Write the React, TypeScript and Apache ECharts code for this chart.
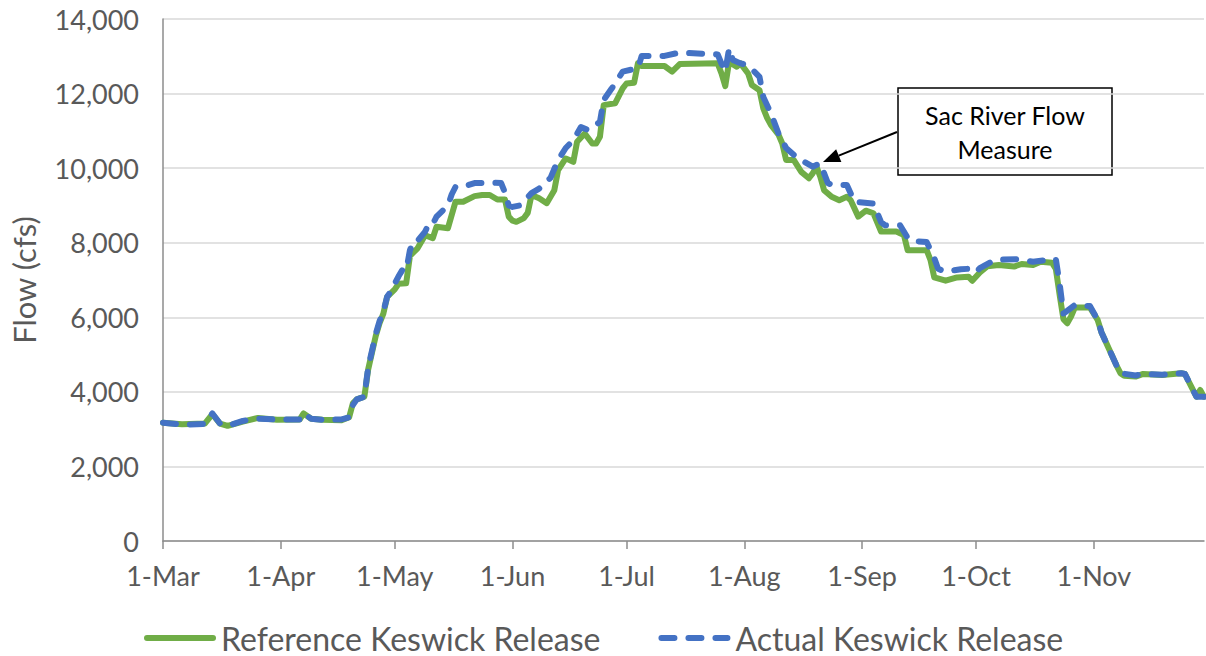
import React, { useEffect, useRef } from "react";
import * as echarts from "echarts";

// Days counted from 1 March; month starts used for ticks and labels.
const monthStartDays = [0, 31, 61, 92, 122, 153, 184, 214, 245];
const monthLabels = ["1-Mar", "1-Apr", "1-May", "1-Jun", "1-Jul", "1-Aug", "1-Sep", "1-Oct", "1-Nov"];

const yTicks = [0, 2000, 4000, 6000, 8000, 10000, 12000, 14000];

// Reference Keswick Release (cfs)
const refDay = [
  0, 5, 11, 13, 15, 17, 21, 25, 30, 36, 37, 39, 42, 47, 49, 50, 51, 53, 54, 56,
  57, 58, 59, 60, 61, 62, 64, 65, 67, 69, 71, 72, 75, 77, 79, 82, 84, 86, 88, 90,
  91, 92, 93, 95, 96, 97, 99, 101, 103, 104, 106, 107, 108, 109, 111, 113, 114, 115, 116, 119,
  121, 122, 124, 125, 126, 132, 134, 136, 146, 147, 148, 149, 151, 152, 154, 155, 157, 158, 159, 160,
  162, 163, 164, 166, 168, 170, 171, 172, 173, 174, 176, 178, 180, 181, 183, 185, 187, 189, 193, 195,
  196, 201, 202, 203, 206, 209, 212, 213, 215, 217, 220, 224, 226, 229, 231, 234, 235, 236, 237, 238,
  239, 240, 244, 246, 247, 249, 251, 252, 253, 256, 258, 263, 268, 269, 270, 272, 273, 274,
];
const refFlow = [
  3170, 3130, 3150, 3400, 3150, 3090, 3200, 3300, 3250, 3260, 3420, 3280, 3250, 3240, 3320, 3700, 3800, 3870, 4600, 5500,
  5840, 6100, 6550, 6650, 6750, 6900, 6910, 7650, 7850, 8200, 8120, 8430, 8390, 9100, 9100, 9250, 9280, 9280, 9160, 9160,
  8700, 8590, 8560, 8660, 8800, 9280, 9190, 9060, 9410, 9950, 10260, 10220, 10170, 10710, 10930, 10660, 10660, 10840, 11690, 11740,
  12140, 12270, 12290, 12810, 12740, 12740, 12590, 12790, 12810, 12540, 12200, 12850, 12720, 12810, 12540, 12230, 12090, 11600, 11350, 11160,
  10900, 10660, 10220, 10220, 9900, 9730, 9860, 10040, 9770, 9410, 9230, 9140, 9230, 9140, 8700, 8860, 8790, 8300, 8300, 8210,
  7800, 7800, 7540, 7070, 6980, 7070, 7090, 6980, 7200, 7370, 7400, 7360, 7430, 7400, 7490, 7460, 7300, 6600, 5950, 5840,
  6020, 6260, 6260, 5930, 5600, 5150, 4700, 4500, 4430, 4410, 4480, 4450, 4500, 4480, 4270, 3870, 4050, 3870,
];

// Actual Keswick Release (cfs)
const actDay = [
  0, 5, 11, 13, 15, 17, 21, 25, 30, 36, 37, 39, 42, 47, 49, 50, 51, 53, 54, 56,
  57, 58, 59, 60, 61, 62, 63, 64, 65, 66, 67, 69, 70, 71, 72, 75, 76, 77, 79, 82,
  87, 89, 90, 91, 92, 94, 97, 99, 102, 104, 106, 108, 110, 112, 115, 116, 118, 121, 125, 126,
  132, 136, 146, 147, 148, 149, 150, 152, 154, 157, 158, 160, 162, 164, 167, 171, 173, 175, 176, 180,
  182, 187, 189, 190, 194, 196, 197, 201, 203, 204, 206, 210, 212, 214, 215, 219, 225, 229, 233, 235,
  236, 237, 239, 240, 244, 246, 247, 249, 251, 252, 256, 258, 263, 268, 269, 270, 272, 274,
];
const actFlow = [
  3170, 3120, 3140, 3420, 3150, 3090, 3220, 3280, 3260, 3260, 3420, 3280, 3250, 3260, 3320, 3650, 3800, 3870, 4650, 5550,
  5900, 6150, 6550, 6700, 6900, 7100, 7270, 7250, 7800, 8050, 8050, 8300, 8520, 8500, 8700, 9000, 9300, 9500, 9500, 9600,
  9610, 9600, 9350, 9000, 8960, 9000, 9330, 9450, 9740, 10220, 10540, 10750, 11100, 11020, 11240, 11830, 12120, 12590, 12680, 13010,
  13010, 13100, 13050, 12800, 12590, 13210, 12900, 12810, 12760, 12450, 11910, 11470, 10930, 10540, 10270, 10040, 10130, 9600, 9550, 9550,
  9100, 9050, 8550, 8470, 8470, 8130, 8050, 8020, 7590, 7300, 7220, 7290, 7300, 7200, 7320, 7540, 7560, 7490, 7540, 7560,
  6900, 6100, 6250, 6330, 6300, 5930, 5600, 5150, 4700, 4500, 4440, 4480, 4460, 4500, 4480, 4270, 3870, 3870,
];

const FONT = "Lato, 'Open Sans', sans-serif";
const TEXT_GRAY = "#595959";
const GREEN = "#70ad47";
const BLUE = "#4472c4";

// Legend keys: a solid rounded bar and rounded dashes
const solidKey = "path://M3,0H69A3,3 0 0 1 69,6H3A3,3 0 0 1 3,0Z";
const dashedKey =
  "path://M3,0H16A3,3 0 0 1 16,6H3A3,3 0 0 1 3,0Z" +
  "M30,0H43A3,3 0 0 1 43,6H30A3,3 0 0 1 30,0Z" +
  "M57,0H69A3,3 0 0 1 69,6H57A3,3 0 0 1 57,0Z";

export default function App() {
  const ref = useRef<HTMLDivElement>(null);

  useEffect(() => {
    if (!ref.current) return;
    const chart = echarts.init(ref.current, undefined, { renderer: "svg" });

    const refData = refDay.map((d, i) => [d, refFlow[i]]);
    const actData = actDay.map((d, i) => [d, actFlow[i]]);

    // Arrow from the callout box to the flow line
    const start = [897, 132];
    const tip = [823, 162];
    const dx = tip[0] - start[0];
    const dy = tip[1] - start[1];
    const len = Math.hypot(dx, dy);
    const ux = dx / len;
    const uy = dy / len;
    const headLen = 17;
    const headHalf = 7;
    const bx = tip[0] - ux * headLen;
    const by = tip[1] - uy * headLen;

    chart.setOption({
      animation: false,
      grid: { left: 163, right: 2, top: 19, bottom: 115, containLabel: false },
      xAxis: {
        type: "value",
        min: 0,
        max: 274,
        axisLine: { show: true, lineStyle: { color: "#8c8c8c", width: 1.5 } },
        axisTick: {
          show: true,
          length: 8,
          customValues: monthStartDays,
          lineStyle: { color: "#8c8c8c", width: 1.5 },
        },
        axisLabel: {
          customValues: monthStartDays,
          formatter: (v: number) => monthLabels[monthStartDays.indexOf(Math.round(v))] ?? "",
          color: TEXT_GRAY,
          fontFamily: FONT,
          fontSize: 27,
          margin: 21,
        },
        splitLine: { show: false },
      },
      yAxis: {
        type: "value",
        min: yTicks[0],
        max: yTicks[yTicks.length - 1],
        interval: 2000,
        name: "Flow (cfs)",
        nameLocation: "middle",
        nameGap: 124,
        nameTextStyle: { color: TEXT_GRAY, fontFamily: FONT, fontSize: 31 },
        axisLine: { show: true, lineStyle: { color: "#8c8c8c", width: 1.5 } },
        axisTick: { show: false },
        axisLabel: {
          color: TEXT_GRAY,
          fontFamily: FONT,
          fontSize: 27,
          margin: 24,
          formatter: (v: number) => v.toLocaleString("en-US"),
        },
        splitLine: { show: true, lineStyle: { color: "#d9d9d9", width: 1.5 } },
      },
      legend: {
        left: 139,
        top: 617,
        itemWidth: 72,
        itemHeight: 6,
        itemGap: 58,
        textStyle: { color: TEXT_GRAY, fontFamily: FONT, fontSize: 32 },
        data: [
          { name: "Reference Keswick Release", icon: solidKey },
          { name: "Actual Keswick Release", icon: dashedKey },
        ],
      },
      series: [
        {
          name: "Reference Keswick Release",
          type: "line",
          data: refData,
          symbol: "none",
          lineStyle: { color: GREEN, width: 6, cap: "round", join: "round" },
          itemStyle: { color: GREEN },
        },
        {
          name: "Actual Keswick Release",
          type: "line",
          data: actData,
          symbol: "none",
          lineStyle: {
            color: BLUE,
            width: 6,
            type: [13, 14],
            cap: "round",
            join: "round",
          },
          itemStyle: { color: BLUE },
        },
      ],
      graphic: [
        {
          type: "group",
          z: 100,
          children: [
            {
              type: "line",
              shape: { x1: start[0], y1: start[1], x2: bx, y2: by },
              style: { stroke: "#000", lineWidth: 2 },
            },
            {
              type: "polygon",
              shape: {
                points: [
                  tip,
                  [bx - uy * headHalf, by + ux * headHalf],
                  [bx + uy * headHalf, by - ux * headHalf],
                ],
              },
              style: { fill: "#000" },
            },
            {
              type: "rect",
              shape: { x: 898, y: 88, width: 214, height: 87 },
              style: { fill: "#fff", stroke: "#000", lineWidth: 1.5 },
            },
            {
              type: "text",
              x: 1005,
              y: 132,
              style: {
                text: "Sac River Flow\nMeasure",
                fill: "#000",
                font: `25px ${FONT}`,
                align: "center",
                verticalAlign: "middle",
                lineHeight: 34,
              },
            },
          ],
        },
      ],
    });

    return () => chart.dispose();
  }, []);

  return (
    <div
      ref={ref}
      style={{ position: "absolute", left: 0, top: 0, width: 1206, height: 656, background: "#fff" }}
    />
  );
}
